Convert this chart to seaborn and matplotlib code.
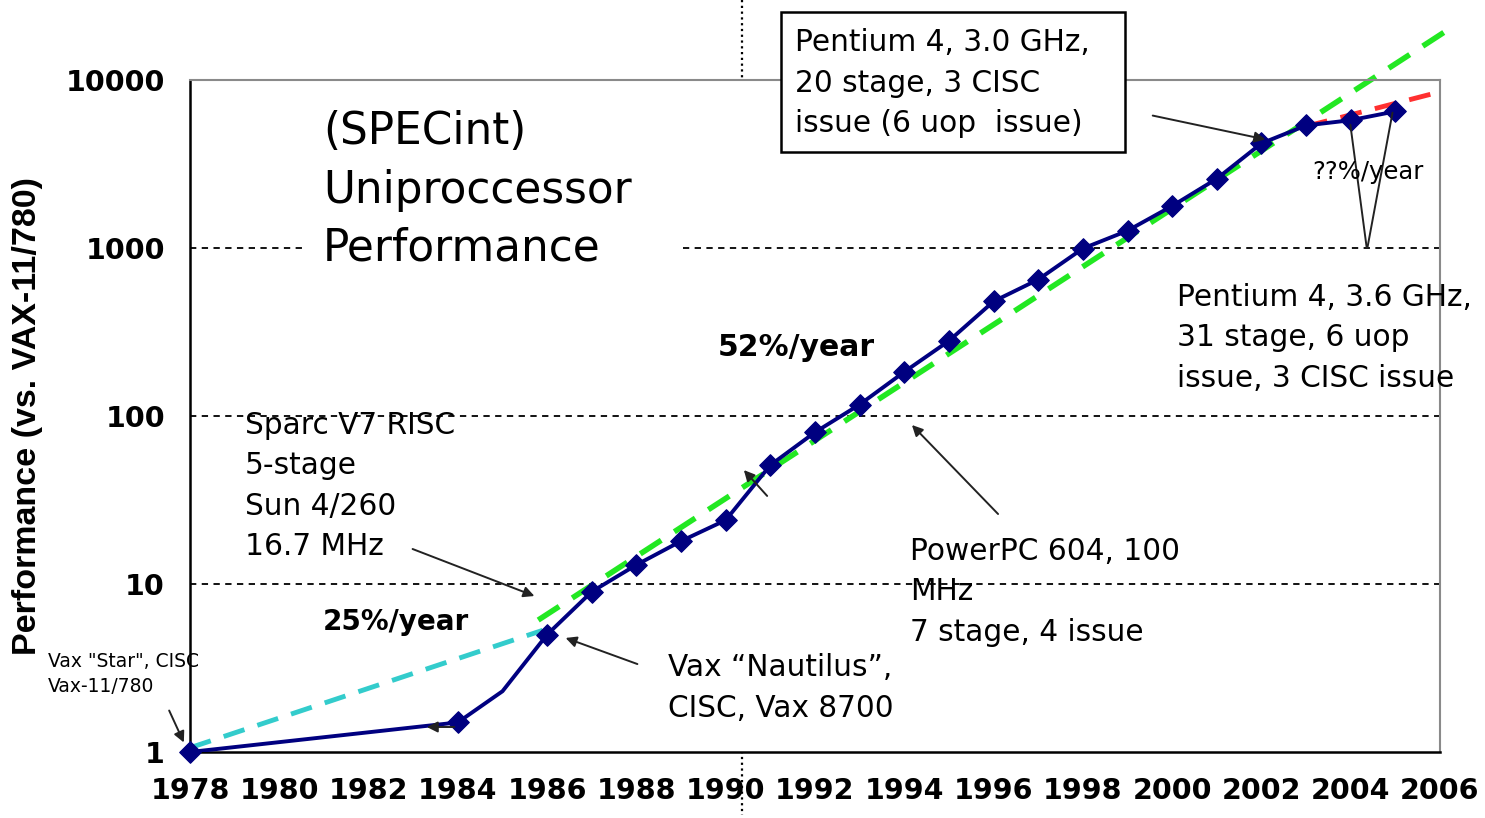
import matplotlib
matplotlib.use("Agg")
import matplotlib.pyplot as plt
import matplotlib.transforms as mtransforms
from matplotlib.patches import Rectangle
import pandas as pd
import seaborn as sns

# SPECint uniprocessor performance relative to VAX-11/780
YEARS = [1978, 1984, 1985, 1986, 1987, 1988, 1989, 1990, 1991, 1992, 1993, 1994,
         1995, 1996, 1997, 1998, 1999, 2000, 2001, 2002, 2003, 2004, 2005]
PERF = [1, 1.5, 2.3, 5, 9, 13, 18, 24, 51, 80, 117, 183,
        280, 481, 649, 993, 1267, 1779, 2584, 4195, 5364, 5764, 6505]
MARKED = [y != 1985 for y in YEARS]

# trend lines (endpoints)
TREND25_YEARS = [1978, 1985.9]
TREND25_PERF = [1.06, 5.3]
TREND52_YEARS = [1985.8, 2006.1]
TREND52_PERF = [6.1, 19300]
TRENDXX_YEARS = [2003, 2006]
TRENDXX_PERF = [5300, 8500]

GRID_LEVELS = [10, 100, 1000]
X_TICKS = list(range(1978, 2007, 2))
Y_TICKS = [1, 10, 100, 1000, 10000]
Y_TICK_LABELS = ["1", "10", "100", "1000", "10000"]

W, H = 1485, 818

sns.set_style("white")
plt.rcParams["font.family"] = ["DejaVu Sans"]
plt.rcParams["text.color"] = "black"
plt.rcParams["axes.labelcolor"] = "black"
plt.rcParams["xtick.color"] = "black"
plt.rcParams["ytick.color"] = "black"

fig = plt.figure(figsize=(W / 100, H / 100), dpi=100)
ax = fig.add_axes([190 / W, 1 - 752 / H, 1250 / W, 672 / H])
# pixel transform (top-left origin) for annotations
PX = mtransforms.Affine2D().scale(1 / W, -1 / H).translate(0, 1) + fig.transFigure

df = pd.DataFrame({"year": YEARS, "perf": PERF, "marked": MARKED})

for lvl in GRID_LEVELS:
    ax.axhline(lvl, color="black", lw=1.3, ls=(0, (3.5, 3)), zorder=1)

sns.lineplot(x=TREND25_YEARS, y=TREND25_PERF, ax=ax, color="#33CCCC", lw=3.5,
             zorder=2).lines[-1].set_linestyle((0, (4.5, 2.8)))
sns.lineplot(x=TREND52_YEARS, y=TREND52_PERF, ax=ax, color="#22E822", lw=4,
             zorder=2).lines[-1].set_linestyle((0, (4.5, 2.8)))
ax.lines[-1].set_clip_on(False)
sns.lineplot(x=TRENDXX_YEARS, y=TRENDXX_PERF, ax=ax, color="#FF3030", lw=3.5,
             zorder=2).lines[-1].set_linestyle((0, (4.5, 2.8)))

sns.lineplot(data=df, x="year", y="perf", ax=ax, color="#000080", lw=2.8, zorder=3)
sns.scatterplot(data=df[df["marked"]], x="year", y="perf", ax=ax, marker="D",
                s=120, color="#000080", edgecolor="#000080", zorder=4,
                clip_on=False)

ax.set_yscale("log")
ax.set_xlim(1978, 2006)
ax.set_ylim(1, 10000)
ax.set_xticks(X_TICKS)
ax.set_xticklabels([str(x) for x in X_TICKS])
ax.set_yticks(Y_TICKS)
ax.set_yticklabels(Y_TICK_LABELS)
ax.minorticks_off()
ax.tick_params(axis="both", direction="out", length=8, width=1.5, color="black",
               labelcolor="black", labelsize=20.5, pad=10)
for lab in ax.get_xticklabels() + ax.get_yticklabels():
    lab.set_fontweight("bold")
ax.set_xlabel("")
ax.set_ylabel("Performance (vs. VAX-11/780)", fontsize=24.5, fontweight="bold",
              family="Liberation Sans")
ax.yaxis.set_label_coords(-0.1176, 0.5)

for side in ["left", "bottom"]:
    ax.spines[side].set_color("black")
    ax.spines[side].set_linewidth(1.8)
for side in ["top", "right"]:
    ax.spines[side].set_color("#8a8a8a")
    ax.spines[side].set_linewidth(1.5)

# vertical dotted marker line across the whole figure
fig.add_artist(plt.Line2D([741.5, 741.5], [0, 815], transform=PX, color="black",
                          lw=1.6, ls=(0, (1, 1.6)), zorder=0))

# title block with white backing that hides the 1000 grid line
fig.add_artist(Rectangle((307, 98), 376, 182, transform=PX, facecolor="white",
                         edgecolor="none", zorder=1.5))
fig.text(323, 190, "(SPECint)\nUniproccessor\nPerformance", transform=PX,
         fontsize=31.5, ha="left", va="center", linespacing=1.45, zorder=2)

MED = 21.3
fig.text(245, 486, "Sparc V7 RISC\n5-stage\nSun 4/260\n16.7 MHz", transform=PX,
         fontsize=MED, ha="left", va="center", linespacing=1.5, zorder=5)
fig.text(668, 688, "Vax \u201cNautilus\u201d,\nCISC, Vax 8700", transform=PX,
         fontsize=MED, ha="left", va="center", linespacing=1.5, zorder=5)
fig.text(910, 592, "PowerPC 604, 100\nMHz\n7 stage, 4 issue", transform=PX,
         fontsize=MED, ha="left", va="center", linespacing=1.5, zorder=5)
fig.text(1177, 338, "Pentium 4, 3.6 GHz,\n31 stage, 6 uop\nissue, 3 CISC issue",
         transform=PX, fontsize=MED, ha="left", va="center", linespacing=1.5,
         zorder=5)
fig.add_artist(Rectangle((781, 12), 344, 140, transform=PX, facecolor="white",
                         edgecolor="black", lw=1.8, zorder=6))
fig.text(795, 83, "Pentium 4, 3.0 GHz,\n20 stage, 3 CISC\nissue (6 uop  issue)",
         transform=PX, fontsize=MED, ha="left", va="center", linespacing=1.5,
         zorder=7)
fig.text(48, 674, "Vax \"Star\", CISC\nVax-11/780", transform=PX, fontsize=13.5,
         ha="left", va="center", linespacing=1.4, zorder=5)
fig.text(718, 347, "52%/year", transform=PX, fontsize=21.5, fontweight="bold",
         ha="left", va="center", zorder=5)
fig.text(323, 622, "25%/year", transform=PX, fontsize=20, fontweight="bold",
         ha="left", va="center", zorder=5)
fig.text(1312, 172, "??%/year", transform=PX, fontsize=17.5, ha="left",
         va="center", zorder=5)

arrow_kw = dict(arrowstyle="-|>", color="#222222", lw=1.4, mutation_scale=16)
ARROWS = [
    ((168, 708), (185, 745)),
    ((457, 727), (424, 727)),
    ((410, 548), (537, 597)),
    ((640, 665), (563, 637)),
    ((769, 498), (742, 468)),
    ((1000, 516), (910, 423)),
    ((1150, 115), (1268, 140)),
]
for start, end in ARROWS:
    ax.annotate("", xy=end, xycoords=PX, xytext=start, textcoords=PX,
                arrowprops=arrow_kw, annotation_clip=False, zorder=8)
for end in [(1350, 122), (1393, 110)]:
    ax.annotate("", xy=end, xycoords=PX, xytext=(1367, 250), textcoords=PX,
                arrowprops=dict(arrowstyle="-", color="#222222", lw=1.4),
                annotation_clip=False, zorder=8)

fig.savefig("out.png", dpi=100)
